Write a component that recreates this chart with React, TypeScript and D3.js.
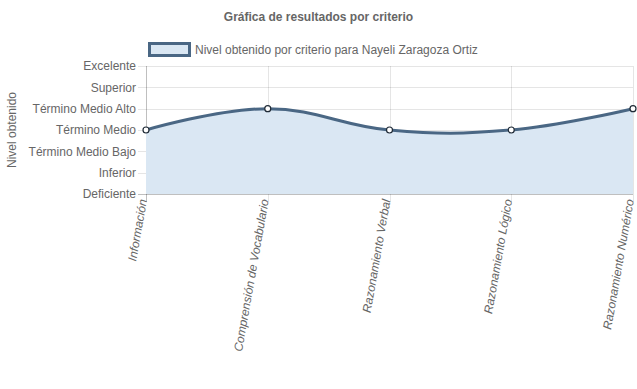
import React, { useEffect, useRef } from "react";
import * as d3 from "d3";

const criterios = [
  "Información",
  "Comprensión de Vocabulario",
  "Razonamiento Verbal",
  "Razonamiento Lógico",
  "Razonamiento Numérico",
];
const niveles = [
  "Deficiente",
  "Inferior",
  "Término Medio Bajo",
  "Término Medio",
  "Término Medio Alto",
  "Superior",
  "Excelente",
];
const valores = [3, 4, 3, 3, 4];

const titulo = "Gráfica de resultados por criterio";
const leyenda = "Nivel obtenido por criterio para Nayeli Zaragoza Ortiz";
const ejeY = "Nivel obtenido";

const width = 637;
const height = 389;
const margin = { top: 66, right: 4, bottom: 195, left: 146 };
const font = "Arial, 'Liberation Sans', Helvetica, sans-serif";
const gris = "#666";
const linea = "#4a6784";
const relleno = "#dae7f3";

export default function App() {
  const svgRef = useRef<SVGSVGElement>(null);

  useEffect(() => {
    const svg = d3.select(svgRef.current);
    svg.selectAll("*").remove();

    const x = d3
      .scalePoint()
      .domain(criterios)
      .range([margin.left, width - margin.right]);
    const y = d3
      .scaleLinear()
      .domain([0, niveles.length - 1])
      .range([height - margin.bottom, margin.top]);

    const g = svg.append("g").attr("font-family", font);

    // title
    g.append("text")
      .attr("x", width / 2)
      .attr("y", 21)
      .attr("text-anchor", "middle")
      .attr("font-size", 12)
      .attr("font-weight", "bold")
      .attr("fill", gris)
      .text(titulo);

    // legend
    g.append("rect")
      .attr("x", 149.5)
      .attr("y", 43.5)
      .attr("width", 40)
      .attr("height", 12)
      .attr("fill", relleno)
      .attr("stroke", linea)
      .attr("stroke-width", 3);
    g.append("text")
      .attr("x", 195)
      .attr("y", 54)
      .attr("font-size", 12)
      .attr("fill", gris)
      .text(leyenda);

    // horizontal grid + y ticks
    const yTicks = d3.range(niveles.length);
    g.append("g")
      .selectAll("line")
      .data(yTicks)
      .join("line")
      .attr("x1", margin.left - 8)
      .attr("x2", width - margin.right)
      .attr("y1", (d) => Math.round(y(d)) + 0.5)
      .attr("y2", (d) => Math.round(y(d)) + 0.5)
      .attr("stroke", (d) => (d === 0 ? "rgba(0,0,0,0.25)" : "rgba(0,0,0,0.1)"));

    g.append("g")
      .selectAll("text")
      .data(yTicks)
      .join("text")
      .attr("x", margin.left - 10)
      .attr("y", (d) => y(d))
      .attr("dy", "0.35em")
      .attr("text-anchor", "end")
      .attr("font-size", 12)
      .attr("fill", gris)
      .text((d) => niveles[d]);

    // vertical grid + x ticks
    g.append("g")
      .selectAll("line")
      .data(criterios)
      .join("line")
      .attr("x1", (d) => Math.round(x(d)!) + 0.5)
      .attr("x2", (d) => Math.round(x(d)!) + 0.5)
      .attr("y1", margin.top)
      .attr("y2", height - margin.bottom + 8)
      .attr("stroke", (d, i) => (i === 0 ? "rgba(0,0,0,0.25)" : "rgba(0,0,0,0.1)"));

    g.append("g")
      .selectAll("text")
      .data(criterios)
      .join("text")
      .attr(
        "transform",
        (d) => `translate(${x(d)! + 1}, ${height - margin.bottom + 6}) rotate(-80)`
      )
      .attr("text-anchor", "end")
      .attr("font-size", 12)
      .attr("font-style", "italic")
      .attr("fill", gris)
      .text((d) => d);

    // y axis title
    g.append("text")
      .attr("transform", `translate(16, ${(margin.top + height - margin.bottom) / 2}) rotate(-90)`)
      .attr("text-anchor", "middle")
      .attr("font-size", 12)
      .attr("fill", gris)
      .text(ejeY);

    const curve = d3.curveCardinal.tension(-0.2);
    const pts = criterios.map((c, i) => ({ c, v: valores[i] }));

    const area = d3
      .area<{ c: string; v: number }>()
      .x((d) => x(d.c)!)
      .y0(y(0))
      .y1((d) => y(d.v))
      .curve(curve);
    g.append("path").attr("d", area(pts)).attr("fill", relleno).attr("fill-opacity", 1);

    const line = d3
      .line<{ c: string; v: number }>()
      .x((d) => x(d.c)!)
      .y((d) => y(d.v))
      .curve(curve);
    g.append("path")
      .attr("d", line(pts))
      .attr("fill", "none")
      .attr("stroke", linea)
      .attr("stroke-width", 3);

    g.append("g")
      .selectAll("circle")
      .data(pts)
      .join("circle")
      .attr("cx", (d) => x(d.c)!)
      .attr("cy", (d) => y(d.v))
      .attr("r", 3)
      .attr("fill", "#fff")
      .attr("stroke", "#1f2a36")
      .attr("stroke-width", 1.2);
  }, []);

  return (
    <svg
      ref={svgRef}
      width={width}
      height={height}
      style={{ position: "absolute", left: 0, top: 0 }}
    />
  );
}
